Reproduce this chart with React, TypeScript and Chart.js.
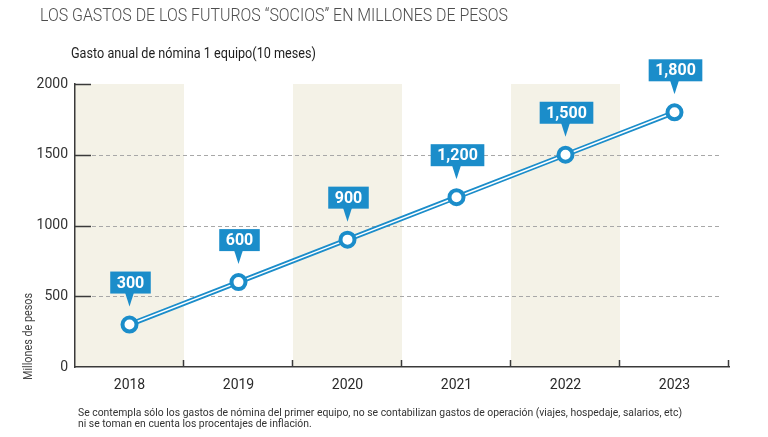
import React, { useEffect, useRef } from "react";
import { Chart, registerables } from "chart.js";

Chart.register(...registerables);

const years = ["2018", "2019", "2020", "2021", "2022", "2023"];
const gasto = [300, 600, 900, 1200, 1500, 1800];
const valueLabels = ["300", "600", "900", "1,200", "1,500", "1,800"];
const shadedYears = ["2018", "2020", "2022"];
const gridValues = [500, 1000, 1500];
const tickMarkValues = [500, 1000, 1500, 2000];
const yMin = 0;
const yMax = 2000;
const yStep = 500;

const titleText = "LOS GASTOS DE LOS FUTUROS \u201CSOCIOS\u201D EN MILLONES DE PESOS";
const subtitleText = "Gasto anual de n\u00f3mina 1 equipo(10 meses)";
const yTitleText = "Millones de pesos";
const footnoteLines = [
  "Se contempla s\u00f3lo los gastos de n\u00f3mina del primer equipo, no se contabilizan gastos de operaci\u00f3n (viajes, hospedaje, salarios, etc)",
  "ni se toman en cuenta los procentajes de inflaci\u00f3n.",
];

const BLUE = "#1b8dca";
const BAND = "#f4f2e7";
const AXIS = "#3a3a3a";
const FONT = "Roboto, 'Liberation Sans', sans-serif";

function drawFitted(
  ctx: CanvasRenderingContext2D,
  text: string,
  x: number,
  y: number,
  font: string,
  color: string,
  targetWidth: number
): number {
  ctx.save();
  ctx.font = font;
  const w = ctx.measureText(text).width;
  const sx = targetWidth / w;
  ctx.translate(x, y);
  ctx.scale(sx, 1);
  ctx.fillStyle = color;
  ctx.textAlign = "left";
  ctx.textBaseline = "alphabetic";
  ctx.fillText(text, 0, 0);
  ctx.restore();
  return sx;
}

const decorPlugin = {
  id: "decor",
  beforeDraw(chart: any) {
    const { ctx, chartArea, scales } = chart;
    const xs = scales.x;
    const ys = scales.y;
    const half = (xs.getPixelForValue(1) - xs.getPixelForValue(0)) / 2;
    ctx.save();
    ctx.fillStyle = BAND;
    const top = ys.getPixelForValue(yMax);
    shadedYears.forEach((yr) => {
      const i = years.indexOf(yr);
      const cx = xs.getPixelForValue(i);
      ctx.fillRect(cx - half, top, half * 2, chartArea.bottom - top);
    });
    ctx.strokeStyle = "#a8a8a8";
    ctx.lineWidth = 1;
    ctx.setLineDash([4, 3]);
    gridValues.forEach((v) => {
      const y = Math.round(ys.getPixelForValue(v)) + 0.5;
      ctx.beginPath();
      ctx.moveTo(chartArea.left + 17, y);
      ctx.lineTo(chartArea.right - 7, y);
      ctx.stroke();
    });
    ctx.restore();
  },
  afterDraw(chart: any) {
    const { ctx, chartArea, scales } = chart;
    const xs = scales.x;
    const ys = scales.y;
    const half = (xs.getPixelForValue(1) - xs.getPixelForValue(0)) / 2;
    ctx.save();
    ctx.strokeStyle = AXIS;
    ctx.lineWidth = 1.5;
    tickMarkValues.forEach((v) => {
      const y = Math.round(ys.getPixelForValue(v)) + 0.5;
      ctx.beginPath();
      ctx.moveTo(chartArea.left, y);
      ctx.lineTo(chartArea.left + 16, y);
      ctx.stroke();
    });
    for (let i = 0; i < years.length; i++) {
      const x = Math.round(xs.getPixelForValue(i) + half) - 0.5;
      ctx.beginPath();
      ctx.moveTo(x, chartArea.bottom);
      ctx.lineTo(x, chartArea.bottom - 7);
      ctx.stroke();
    }
    ctx.restore();

    const meta = chart.getDatasetMeta(0);
    ctx.save();
    ctx.font = `bold 16px ${FONT}`;
    meta.data.forEach((pt: any, i: number) => {
      const label = valueLabels[i];
      const tw = ctx.measureText(label).width;
      const bw = tw + 13;
      const bh = 22;
      const bottom = pt.y - 31;
      const left = pt.x - bw / 2 + 1;
      ctx.fillStyle = BLUE;
      ctx.fillRect(left, bottom - bh, bw, bh);
      ctx.beginPath();
      ctx.moveTo(pt.x - 4.5, bottom - 1);
      ctx.lineTo(pt.x + 4.5, bottom - 1);
      ctx.lineTo(pt.x, bottom + 13);
      ctx.closePath();
      ctx.fill();
      ctx.fillStyle = "#ffffff";
      ctx.textAlign = "center";
      ctx.textBaseline = "middle";
      ctx.fillText(label, left + bw / 2, bottom - bh / 2 + 1);
    });
    ctx.restore();

    drawFitted(ctx, titleText, 40, 21, `300 18px ${FONT}`, "#4d4d4d", 468);
    drawFitted(ctx, subtitleText, 71, 58, `400 14.5px ${FONT}`, "#1e1e1e", 245);
    const sx = drawFitted(ctx, footnoteLines[0], 78, 416, `400 11.5px ${FONT}`, "#333333", 604);
    ctx.save();
    ctx.font = `400 11.5px ${FONT}`;
    ctx.translate(78, 427);
    ctx.scale(sx, 1);
    ctx.fillStyle = "#333333";
    ctx.fillText(footnoteLines[1], 0, 0);
    ctx.restore();

    ctx.save();
    ctx.font = `400 12px ${FONT}`;
    const w = ctx.measureText(yTitleText).width;
    ctx.translate(32, 380);
    ctx.rotate(-Math.PI / 2);
    ctx.scale(87 / w, 1);
    ctx.fillStyle = "#444444";
    ctx.textBaseline = "alphabetic";
    ctx.fillText(yTitleText, 0, 0);
    ctx.restore();
  },
};

export default function App() {
  const ref = useRef<HTMLCanvasElement | null>(null);
  useEffect(() => {
    if (!ref.current) return;
    const chart = new Chart(ref.current, {
      type: "line",
      data: {
        labels: years,
        datasets: [
          {
            data: gasto,
            borderColor: "#ffffff",
            borderWidth: 1.5,
            pointRadius: 7,
            pointHoverRadius: 7,
            pointBorderWidth: 4,
            pointBorderColor: BLUE,
            pointBackgroundColor: "#ffffff",
            fill: false,
            tension: 0,
          },
          {
            data: gasto,
            borderColor: BLUE,
            borderWidth: 5,
            pointRadius: 0,
            fill: false,
            tension: 0,
          },
        ],
      },
      options: {
        responsive: false,
        animation: false,
        devicePixelRatio: 1,
        layout: { padding: { left: 0, right: 39, top: 84, bottom: 0 } },
        plugins: {
          legend: { display: false },
          tooltip: { enabled: false },
          title: { display: false },
        },
        scales: {
          x: {
            type: "category",
            offset: true,
            grid: { display: false, drawTicks: false },
            border: { display: true, color: AXIS, width: 1.5 },
            ticks: {
              color: "#2a2a2a",
              font: { family: FONT, size: 14 },
              padding: 10,
              maxRotation: 0,
            },
            afterFit: (s: any) => {
              s.height = 70;
            },
          },
          y: {
            min: yMin,
            max: yMax,
            grid: { display: false, drawTicks: false },
            border: { display: true, color: AXIS, width: 1.5 },
            ticks: {
              stepSize: yStep,
              color: "#333333",
              font: { family: FONT, size: 14 },
              padding: 7,
              callback: (v: any) => String(v),
            },
            afterFit: (s: any) => {
              s.width = 75;
            },
          },
        },
      },
      plugins: [decorPlugin],
    });
    return () => chart.destroy();
  }, []);
  return (
    <div style={{ position: "absolute", left: 0, top: 0, width: 768, height: 437, background: "#fff" }}>
      <canvas ref={ref} width={768} height={437} />
    </div>
  );
}
